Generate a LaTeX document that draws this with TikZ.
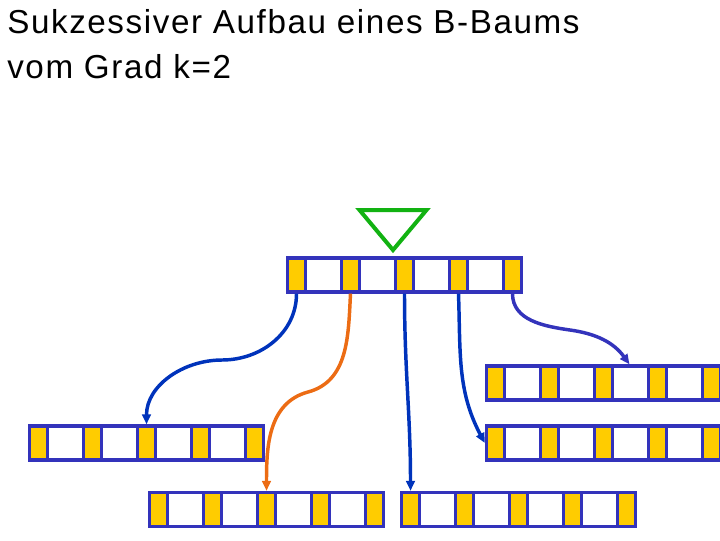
\documentclass[tikz,border=0pt]{standalone}
\usepackage{fontspec}
\usetikzlibrary{arrows.meta}
\newfontfamily\titlefont{Liberation Sans}[LetterSpace=4.8]
\definecolor{pageblue}{RGB}{51,51,187}
\definecolor{slotyellow}{RGB}{255,204,0}
\definecolor{ptrblue}{RGB}{0,51,187}
\definecolor{ptrorange}{RGB}{236,108,20}
\definecolor{markgreen}{RGB}{18,178,18}
\tikzset{
  page/.style={draw=pageblue, fill=white, line width=2.5pt, inner sep=0pt, minimum width=175.5pt, minimum height=25.5pt},
  slot/.style={draw=pageblue, fill=slotyellow, line width=2.5pt, inner sep=0pt, minimum width=13.5pt, minimum height=25.5pt},
  ptr/.style={line width=2.6pt, -{Triangle[length=7.5pt,width=6.5pt]}},
  marker/.style={draw=markgreen, line width=3pt, line join=miter},
  title/.style={inner sep=0pt, anchor=base west, font=\titlefont\fontsize{24.9pt}{28pt}\selectfont},
}
\newcommand{\bpage}[3]{%
  \node[page] (#1) at (#2,#3) {};
  \foreach \i in {1,...,5}
    \node[slot] (#1-\i) at (#2-162+54*\i,#3) {};
}
\begin{document}
\begin{tikzpicture}[x=0.75pt, y=0.75pt]
\useasboundingbox (0,0) rectangle (720,-540);
\node[title] (title1) at (7,-33) {Sukzessiver Aufbau eines B-Baums};
\node[title] (title2) at (7,-78) {vom Grad k=2};
\draw[marker] (359.5,-210) -- (426.5,-210) -- (393,-250) -- cycle;
\bpage{root}{404.5}{-275}
\bpage{rt}{603.5}{-383}
\bpage{left}{146.5}{-443}
\bpage{rm}{603.5}{-443}
\bpage{bl}{266.5}{-509.5}
\bpage{br}{518.5}{-509.5}
\coordinate (bend1) at (222,-360);
\draw[ptr, ptrblue] (root-1.south) to[out=-90, in=0] (bend1) to[out=180, in=90] (left-3.north);
\coordinate (bend2) at (308,-392);
\draw[ptr, ptrorange] (root-2.south) to[out=-93, in=15] (bend2) to[out=195, in=90] (bl-3.north);
\draw[ptr, ptrblue] (root-3.south) to[out=-90, in=90] (br-1.north);
\draw[ptr, ptrblue] (root-4.south) to[out=-88, in=118] (rm.west);
\coordinate (bend5) at (570,-330);
\coordinate (rt-in) at ([xshift=19.5pt]rt.north);
\draw[ptr, pageblue] (root-5.south) to[out=-90, in=172] (bend5) to[out=-8, in=126] (rt-in);
\end{tikzpicture}
\end{document}
